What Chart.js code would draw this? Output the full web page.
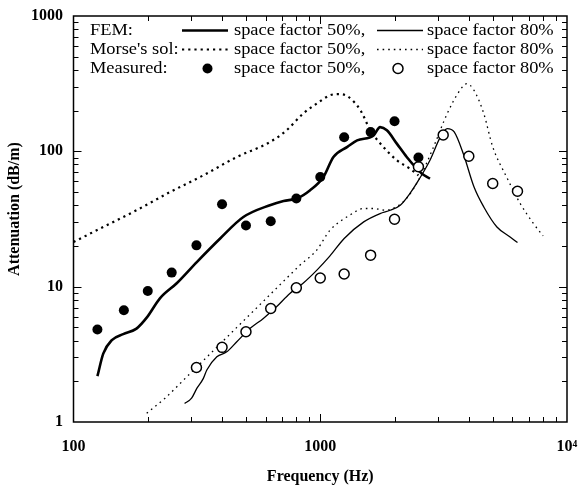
<!DOCTYPE html>
<html><head><meta charset="utf-8">
<script src="https://cdn.jsdelivr.net/npm/chart.js@4/dist/chart.umd.min.js"></script>
<style>html,body{margin:0;padding:0;background:#fff;}canvas{display:block;}</style>
</head><body>
<canvas id="c" width="582" height="489"></canvas>
<script>
// ---- data (Frequency in Hz, Attenuation in dB/m) ----
const femSf50Freq = [125, 132, 143, 159, 180, 198, 224, 262, 316, 393, 488, 625, 710, 803, 910, 1030, 1131, 1288, 1411, 1645, 1748, 1862, 2043, 2241, 2462, 2583, 2784];
const femSf50Att  = [2.18, 3.2, 4.03, 4.46, 4.9, 5.9, 8.2, 10.6, 15.2, 22.7, 32.7, 40, 43, 44.8, 51.6, 64.6, 90.8, 108, 120.6, 131, 151, 143, 114, 90.8, 74.5, 68.4, 62.9];

const femSf80Freq = [282, 301, 316, 336, 347, 381, 418, 459, 520, 588, 665, 753, 852, 967, 1093, 1250, 1500, 1748, 1922, 2110, 2306, 2500, 2784, 3070, 3270, 3490, 3800, 4200, 4600, 5200, 5880, 6300];
const femSf80Att  = [1.37, 1.5, 1.77, 2.1, 2.42, 3.03, 3.3, 3.92, 4.92, 5.83, 7.1, 8.9, 10.6, 13.2, 16.8, 22.7, 30.1, 34.7, 36.7, 40, 48.7, 61, 86, 128, 147, 139, 96, 54.5, 38.8, 27.6, 23.3, 21.2];

const morseSf50Freq = [100, 132, 180, 246, 336, 459, 625, 730, 852, 967, 1093, 1180, 1290, 1455, 1596, 1800, 2043, 2306, 2500];
const morseSf50Att  = [21.4, 27.6, 36.7, 50, 66.5, 90.8, 117, 143, 190, 225, 259, 265, 255, 201, 143, 108, 86, 74.5, 66.5];

const morseSf80Freq = [198, 235, 288, 358, 459, 588, 753, 830, 967, 1093, 1325, 1500, 1645, 1833, 1985, 2240, 2540, 2880, 3270, 3680, 3930, 4200, 4600, 5000, 5690, 6470, 7310, 8000];
const morseSf80Att  = [1.16, 1.5, 2.16, 3.19, 5.0, 7.8, 12.2, 14.5, 18.6, 26, 34, 37.8, 37.8, 36.7, 38, 45, 64.6, 108, 190, 282, 316, 282, 190, 108, 64.6, 41, 29.3, 23.7];

const measSf50Freq = [125, 160, 200, 250, 315, 400, 500, 630, 800, 1000, 1250, 1600, 2000, 2500];
const measSf50Att  = [4.83, 6.7, 9.3, 12.7, 20.2, 40.6, 28.3, 30.4, 44.8, 64.6, 127, 139, 167, 90];

const measSf80Freq = [315, 400, 500, 630, 800, 1000, 1250, 1600, 2000, 2500, 3150, 4000, 5000, 6300];
const measSf80Att  = [2.53, 3.56, 4.64, 6.9, 9.8, 11.6, 12.4, 17.1, 31.5, 77, 132, 92, 57.8, 50.7];

const xTickValues = [100, 1000, 10000];
const xTickLabels = ['100', '1000', '10\u2074'];
const yTickValues = [1, 10, 100, 1000];
const yTickLabels = ['1', '10', '100', '1000'];
const xTitle = 'Frequency (Hz)';
const yTitle = 'Attenuation (dB/m)';
const legendRowLabels = ['FEM:', "Morse's sol:", 'Measured:'];
const legendCol1Label = 'space factor 50%,';
const legendCol2Label = 'space factor 80%';

// ---- chart ----
const SERIF = '"Liberation Serif", "Times New Roman", serif';
Chart.defaults.font.family = SERIF;
Chart.defaults.color = '#000';

const pts = (xs, ys) => xs.map((x, i) => ({x: x, y: ys[i]}));

const lineBase = {showLine: true, pointRadius: 0, pointHoverRadius: 0, borderColor: '#000',
  backgroundColor: '#000', fill: false, cubicInterpolationMode: 'monotone', borderCapStyle: 'butt'};

const decoPlugin = {
  id: 'deco',
  afterDraw(chart) {
    const ctx = chart.ctx, a = chart.chartArea;
    const xs = chart.scales.x, ys = chart.scales.y;
    ctx.save();
    ctx.strokeStyle = '#000';
    ctx.lineWidth = 1.5;
    ctx.strokeRect(a.left, a.top, a.right - a.left, a.bottom - a.top);
    ctx.lineWidth = 1;
    ctx.beginPath();
    // x ticks (inward, bottom and top)
    for (let d = 100; d < 10000; d *= 10) {
      for (let m = 1; m <= 9; m++) {
        const v = d * m;
        const px = Math.round(xs.getPixelForValue(v)) + 0.5;
        const len = m === 1 ? 8 : 5;
        if (m === 1 && d === 100) continue;
        ctx.moveTo(px, a.bottom); ctx.lineTo(px, a.bottom - len);
        ctx.moveTo(px, a.top); ctx.lineTo(px, a.top + len);
      }
    }
    // y ticks (inward, left and right)
    for (let d = 1; d < 1000; d *= 10) {
      for (let m = 1; m <= 9; m++) {
        const v = d * m;
        if (m === 1 && d === 1) continue;
        const py = Math.round(ys.getPixelForValue(v)) + 0.5;
        const len = m === 1 ? 8 : 5;
        ctx.moveTo(a.left, py); ctx.lineTo(a.left + len, py);
        ctx.moveTo(a.right, py); ctx.lineTo(a.right - len, py);
      }
    }
    ctx.stroke();

    // y axis title (placed slightly above centre, as in the original)
    ctx.save();
    ctx.translate(15, (a.top + a.bottom) / 2 - 10);
    ctx.rotate(-Math.PI / 2);
    ctx.font = 'bold 16px ' + SERIF;
    ctx.fillStyle = '#000';
    ctx.textAlign = 'center';
    ctx.textBaseline = 'middle';
    ctx.fillText(yTitle, 0, 0);
    ctx.restore();

    // legend block
    const rowY = [35, 53.5, 72.5];
    const sx = 1.15;
    const txt = (s, x, y) => {
      ctx.save(); ctx.translate(x, y); ctx.scale(sx, 1);
      ctx.fillText(s, 0, 0); ctx.restore();
    };
    ctx.fillStyle = '#000';
    ctx.font = '16px ' + SERIF;
    ctx.textBaseline = 'alphabetic';
    ctx.textAlign = 'left';
    for (let i = 0; i < 3; i++) {
      txt(legendRowLabels[i], 90, rowY[i]);
      txt(legendCol1Label, 234, rowY[i]);
      txt(legendCol2Label, 427, rowY[i]);
    }
    const ds = chart.data.datasets;
    const sample = (dsIdx, x0, x1, y) => {
      const d = ds[dsIdx];
      ctx.save();
      ctx.strokeStyle = '#000';
      ctx.lineWidth = d.borderWidth;
      ctx.setLineDash(d.borderDash || []);
      ctx.beginPath(); ctx.moveTo(x0, y); ctx.lineTo(x1, y); ctx.stroke();
      ctx.restore();
    };
    sample(2, 182, 228, 30.5);
    sample(3, 377, 423, 30.5);
    sample(4, 182, 228, 49.5);
    sample(5, 377, 423, 49.5);
    ctx.beginPath(); ctx.arc(207.5, 68.5, 5, 0, Math.PI * 2); ctx.fillStyle = '#000'; ctx.fill();
    ctx.beginPath(); ctx.arc(398, 68.5, 5, 0, Math.PI * 2); ctx.fillStyle = '#fff'; ctx.fill();
    ctx.lineWidth = 1.5; ctx.strokeStyle = '#000'; ctx.stroke();
    ctx.restore();
  }
};

new Chart(document.getElementById('c'), {
  type: 'scatter',
  data: {
    datasets: [
      {label: 'Measured, space factor 50%', data: pts(measSf50Freq, measSf50Att), showLine: false,
        pointRadius: 5, pointHoverRadius: 5, pointBackgroundColor: '#000', pointBorderColor: '#000', pointBorderWidth: 0},
      {label: 'Measured, space factor 80%', data: pts(measSf80Freq, measSf80Att), showLine: false,
        pointRadius: 5, pointHoverRadius: 5, pointBackgroundColor: '#fff', pointBorderColor: '#000', pointBorderWidth: 1.5},
      Object.assign({label: 'FEM, space factor 50%', data: pts(femSf50Freq, femSf50Att), borderWidth: 2.6}, lineBase),
      Object.assign({label: 'FEM, space factor 80%', data: pts(femSf80Freq, femSf80Att), borderWidth: 1.3}, lineBase),
      Object.assign({label: "Morse's sol, space factor 50%", data: pts(morseSf50Freq, morseSf50Att), borderWidth: 2.2, borderDash: [2.2, 4]}, lineBase),
      Object.assign({label: "Morse's sol, space factor 80%", data: pts(morseSf80Freq, morseSf80Att), borderWidth: 1.3, borderDash: [1.6, 4]}, lineBase)
    ]
  },
  options: {
    responsive: false,
    animation: false,
    devicePixelRatio: 1,
    events: [],
    layout: {padding: {left: 0, right: 15, top: 16, bottom: 0}},
    plugins: {legend: {display: false}, tooltip: {enabled: false}},
    scales: {
      x: {
        type: 'logarithmic', min: 100, max: 10000,
        afterBuildTicks: (s) => { s.ticks = xTickValues.map(v => ({value: v})); },
        afterFit: (s) => { s.height = 67; s.paddingLeft = 0; s.paddingRight = 0; },
        grid: {display: false, drawTicks: false},
        border: {display: false},
        ticks: {padding: 15, color: '#000', autoSkip: false, maxRotation: 0,
          font: {size: 16, weight: 'bold'},
          callback: (v, i) => xTickLabels[i]},
        title: {display: true, text: xTitle, color: '#000', font: {size: 16, weight: 'bold'},
          padding: {top: 0, bottom: 2.4}}
      },
      y: {
        type: 'logarithmic', min: 1, max: 1000,
        afterBuildTicks: (s) => { s.ticks = yTickValues.map(v => ({value: v})); },
        afterFit: (s) => { s.width = 73.5; s.paddingTop = 0; s.paddingBottom = 0; },
        grid: {display: false, drawTicks: false},
        border: {display: false},
        ticks: {padding: 10.5, color: '#000', autoSkip: false,
          font: {size: 16, weight: 'bold'},
          callback: (v, i) => yTickLabels[i]},
        title: {display: false}
      }
    }
  },
  plugins: [decoPlugin]
});
</script>
</body></html>
